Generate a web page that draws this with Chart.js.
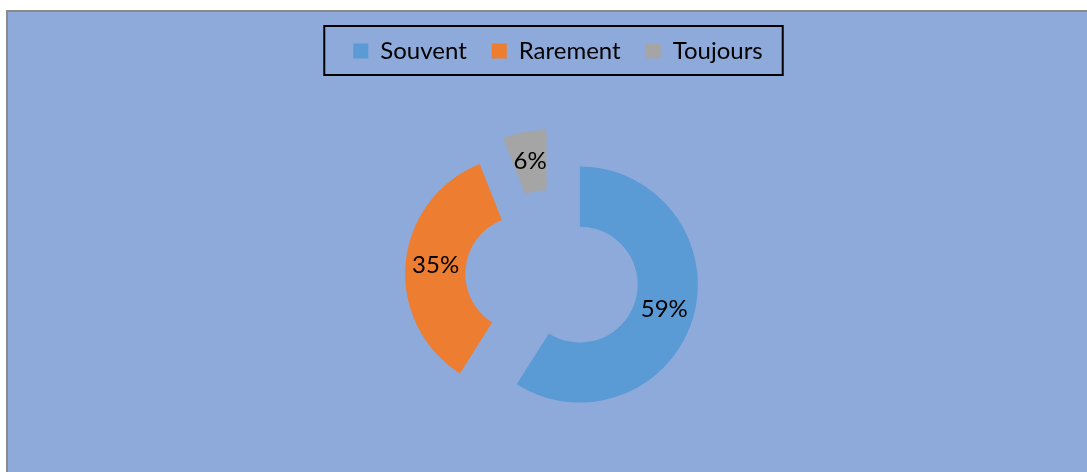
<!DOCTYPE html>
<html>
<head>
<meta charset="utf-8">
<script src="https://cdn.jsdelivr.net/npm/chart.js@4.4.1/dist/chart.umd.min.js"></script>
<style>
  html, body { margin: 0; padding: 0; background: #fff; overflow: hidden; }
  #frame {
    position: absolute; left: 6px; top: 10px; width: 1120px; height: 500px;
    background: #8eaadb; border: 2px solid #8a8a8a;
  }
  #pie { position: absolute; left: 0; top: 0; }
</style>
</head>
<body>
<div id="frame"></div>
<canvas id="pie" width="1087" height="480"></canvas>
<script>
// chart data
const categories = ['Souvent', 'Rarement', 'Toujours'];
const shares = [59, 35, 6];
const sliceColors = ['#5b9bd5', '#ed7d31', '#a5a5a5'];

const explode = 29;   // how far each slice is pulled out
const fontFamily = 'Lato, "Open Sans", sans-serif';

// pull every slice out along its middle angle
const explodePlugin = {
  id: 'explode',
  afterLayout(chart) {
    // legend sits a little right of the ring centre
    if (chart.legend) {
      chart.legend.left += 6;
      chart.legend.right += 6;
    }
  },
  afterDatasetsUpdate(chart) {
    chart.getDatasetMeta(0).data.forEach(arc => {
      const mid = (arc.startAngle + arc.endAngle) / 2;
      arc.x += Math.cos(mid) * explode;
      arc.y += Math.sin(mid) * explode;
    });
  }
};

// percentage text in the middle of each ring piece
const labelPlugin = {
  id: 'sliceLabels',
  afterDatasetsDraw(chart) {
    const ctx = chart.ctx;
    const values = chart.data.datasets[0].data;
    const total = values.reduce((a, b) => a + b, 0);
    ctx.save();
    ctx.font = '24px ' + fontFamily;
    ctx.fillStyle = '#000';
    ctx.textAlign = 'center';
    ctx.textBaseline = 'middle';
    chart.getDatasetMeta(0).data.forEach((arc, i) => {
      const mid = (arc.startAngle + arc.endAngle) / 2;
      const r = (arc.innerRadius + arc.outerRadius) / 2;
      const pct = Math.round(values[i] / total * 100) + '%';
      ctx.fillText(pct, arc.x + Math.cos(mid) * r, arc.y + Math.sin(mid) * r);
    });
    ctx.restore();
  }
};

// black frame round the legend
const legendBoxPlugin = {
  id: 'legendBox',
  afterDraw(chart) {
    const boxes = chart.legend && chart.legend.legendHitBoxes;
    if (!boxes || !boxes.length) return;
    const first = boxes[0];
    const last = boxes[boxes.length - 1];
    const ctx = chart.ctx;
    ctx.save();
    ctx.strokeStyle = '#000';
    ctx.lineWidth = 2;
    const left = first.left - 29;
    const right = last.left + last.width + 20;
    const top = first.top - 13;
    const bottom = first.top + first.height + 12;
    ctx.strokeRect(left, top, right - left, bottom - top);
    ctx.restore();
  }
};

new Chart(document.getElementById('pie'), {
  type: 'doughnut',
  data: {
    labels: categories,
    datasets: [{
      data: shares,
      backgroundColor: sliceColors,
      borderWidth: 0
    }]
  },
  options: {
    responsive: false,
    animation: false,
    radius: 118,
    cutout: '49%',
    layout: { padding: { left: 17, top: 14, right: 0, bottom: 0 } },
    plugins: {
      legend: {
        position: 'top',
        labels: {
          boxWidth: 15,
          boxHeight: 15,
          padding: 25,
          color: '#000',
          font: { family: fontFamily, size: 24 }
        }
      },
      tooltip: { enabled: false }
    }
  },
  plugins: [explodePlugin, labelPlugin, legendBoxPlugin]
});
</script>
</body>
</html>
